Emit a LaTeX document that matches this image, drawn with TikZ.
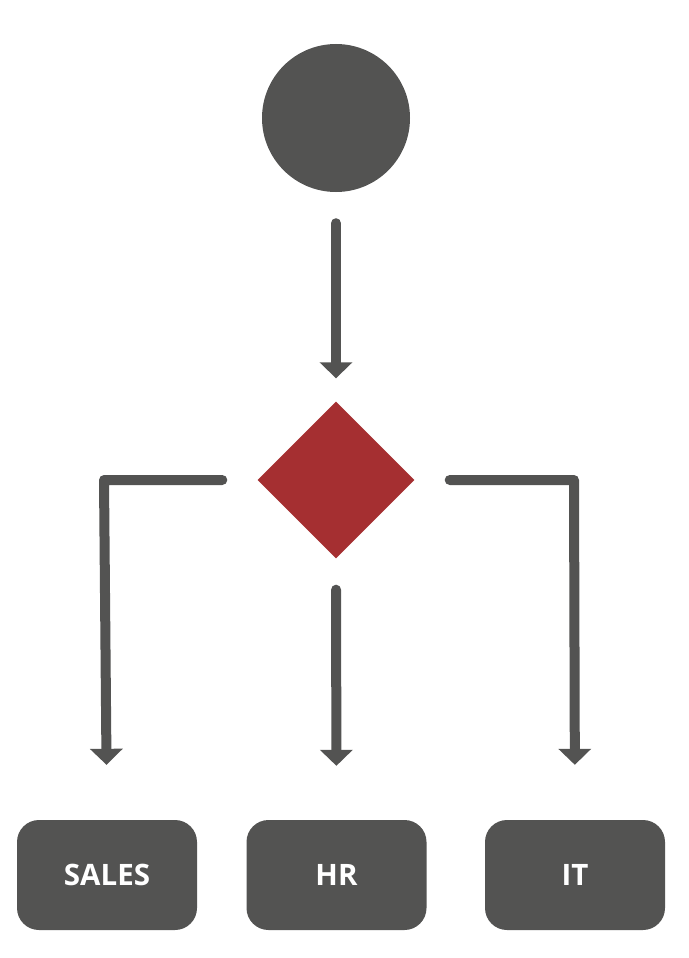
\documentclass[tikz,border=0pt]{standalone}
\usepackage{fontspec}
\setsansfont{Open Sans}
\usetikzlibrary{arrows.meta,shapes.geometric}

\definecolor{boxgray}{RGB}{83,83,82}
\definecolor{deptred}{RGB}{165,47,49}

\def\boxrow{875}
\def\branch{480}

\tikzset{
  dept/.style={fill=boxgray,rounded corners=22pt,minimum width=180pt,minimum height=110pt,
    inner sep=0pt,text=white,font=\sffamily\bfseries\fontsize{29.5}{35}\selectfont},
  flow/.style={draw=boxgray,line width=10pt,line cap=round,line join=round,
    -{Triangle[length=16pt,width=32pt]}}
}

\begin{document}
\begin{tikzpicture}[x=1pt,y=-1pt]
    \useasboundingbox (0,0) rectangle (688,958);

    \node[circle,fill=boxgray,minimum size=148pt,inner sep=0pt] (start) at (336,118) {};
    \node[diamond,fill=deptred,minimum size=157pt,inner sep=0pt] (choice) at (336,\branch) {};

    \node[dept] (sales) at (107,\boxrow) {SALES};
    \node[dept] (hr) at (336.5,\boxrow) {HR};
    \node[dept] (it) at (575,\boxrow) {IT};

    \coordinate (lcorner) at (104,\branch);
    \coordinate (rcorner) at (574,\branch);

    \draw[flow,shorten <=31pt,shorten >=23pt] (start.south) -- (choice.north);
    \draw[flow,shorten <=35pt,shorten >=55pt] (choice.west) -- (lcorner) -- (sales.north);
    \draw[flow,shorten <=31pt,shorten >=54pt] (choice.south) -- (hr.north);
    \draw[flow,shorten <=35pt,shorten >=55pt] (choice.east) -- (rcorner) -- (it.north);

  \end{tikzpicture}
\end{document}
